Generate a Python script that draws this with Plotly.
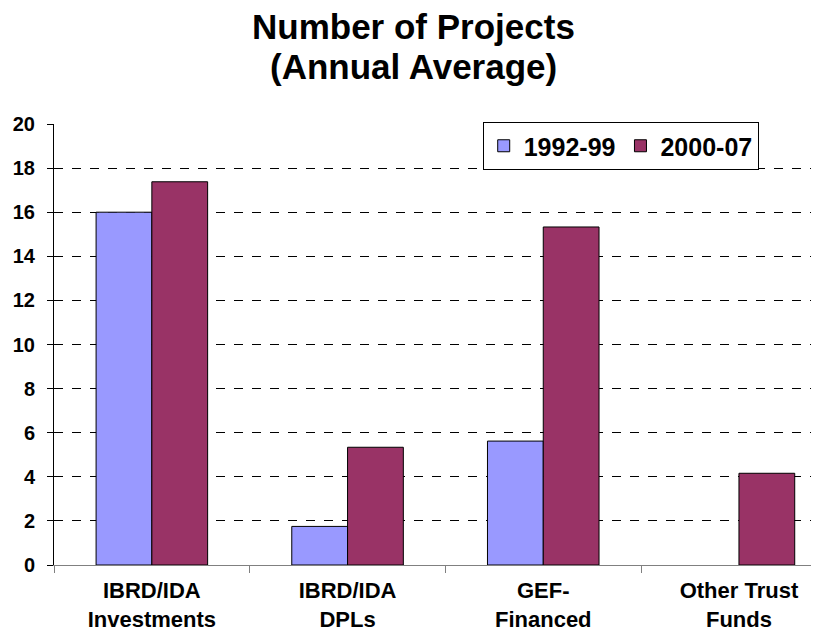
import plotly.graph_objects as go

categories = ["IBRD/IDA<br>Investments", "IBRD/IDA<br>DPLs", "GEF-<br>Financed", "Other Trust<br>Funds"]
series_names = ["1992-99", "2000-07"]
values_1992_99 = [16.0, 1.75, 5.62, 0]
values_2000_07 = [17.38, 5.34, 15.33, 4.16]
y_ticks = [0, 2, 4, 6, 8, 10, 12, 14, 16, 18, 20]
title_lines = ["Number of Projects", "(Annual Average)"]
colors = ["#9999FF", "#993366"]

FONT = "Liberation Sans, Arial, sans-serif"

fig = go.Figure()
for name, vals, col in zip(series_names, [values_1992_99, values_2000_07], colors):
    fig.add_trace(go.Bar(
        x=categories, y=vals, name=name,
        marker=dict(color=col,
                    line=dict(color="#000000", width=[1 if v > 0 else 0 for v in vals])),
    ))

fig.update_layout(
    width=811, height=627,
    paper_bgcolor="white", plot_bgcolor="white",
    margin=dict(l=46, r=0, t=116, b=70),
    barmode="group", bargap=0.43, bargroupgap=0,
    font=dict(family=FONT, color="black"),
    annotations=[
        dict(text="<b>%s</b>" % title_lines[0], xref="paper", yref="paper",
             x=0.47, y=1.2200, xanchor="center", yanchor="middle", showarrow=False,
             font=dict(size=35, family=FONT, color="black")),
        dict(text="<b>%s</b>" % title_lines[1], xref="paper", yref="paper",
             x=0.47, y=1.1304, xanchor="center", yanchor="middle", showarrow=False,
             font=dict(size=35, family=FONT, color="black")),
    ],
    legend=dict(
        orientation="h", x=0.5604, xanchor="left", y=1.0045, yanchor="top",
        bordercolor="black", borderwidth=1, bgcolor="white",
        font=dict(size=25, family=FONT, color="black", weight="bold"),
        itemwidth=30, tracegroupgap=0,
    ),
    xaxis=dict(
        type="category", range=[-0.5, 3.409], automargin=False,
        showline=True, linecolor="#808080", linewidth=1,
        ticks="outside", tickson="boundaries", ticklen=7, tickcolor="#808080",
        showgrid=False, ticklabelstandoff=6,
        tickfont=dict(size=22, family=FONT, color="black", weight="bold"),
    ),
    yaxis=dict(
        range=[0, 20], tickvals=y_ticks, automargin=False,
        showline=True, linecolor="black", linewidth=1,
        ticks="outside", ticklen=6, tickcolor="black",
        showgrid=True, gridcolor="black", griddash="dash", gridwidth=1,
        zeroline=False,
        ticklabelstandoff=8,
        tickfont=dict(size=20, family=FONT, color="black", weight="bold"),
    ),
)

fig.write_html("out.html")
